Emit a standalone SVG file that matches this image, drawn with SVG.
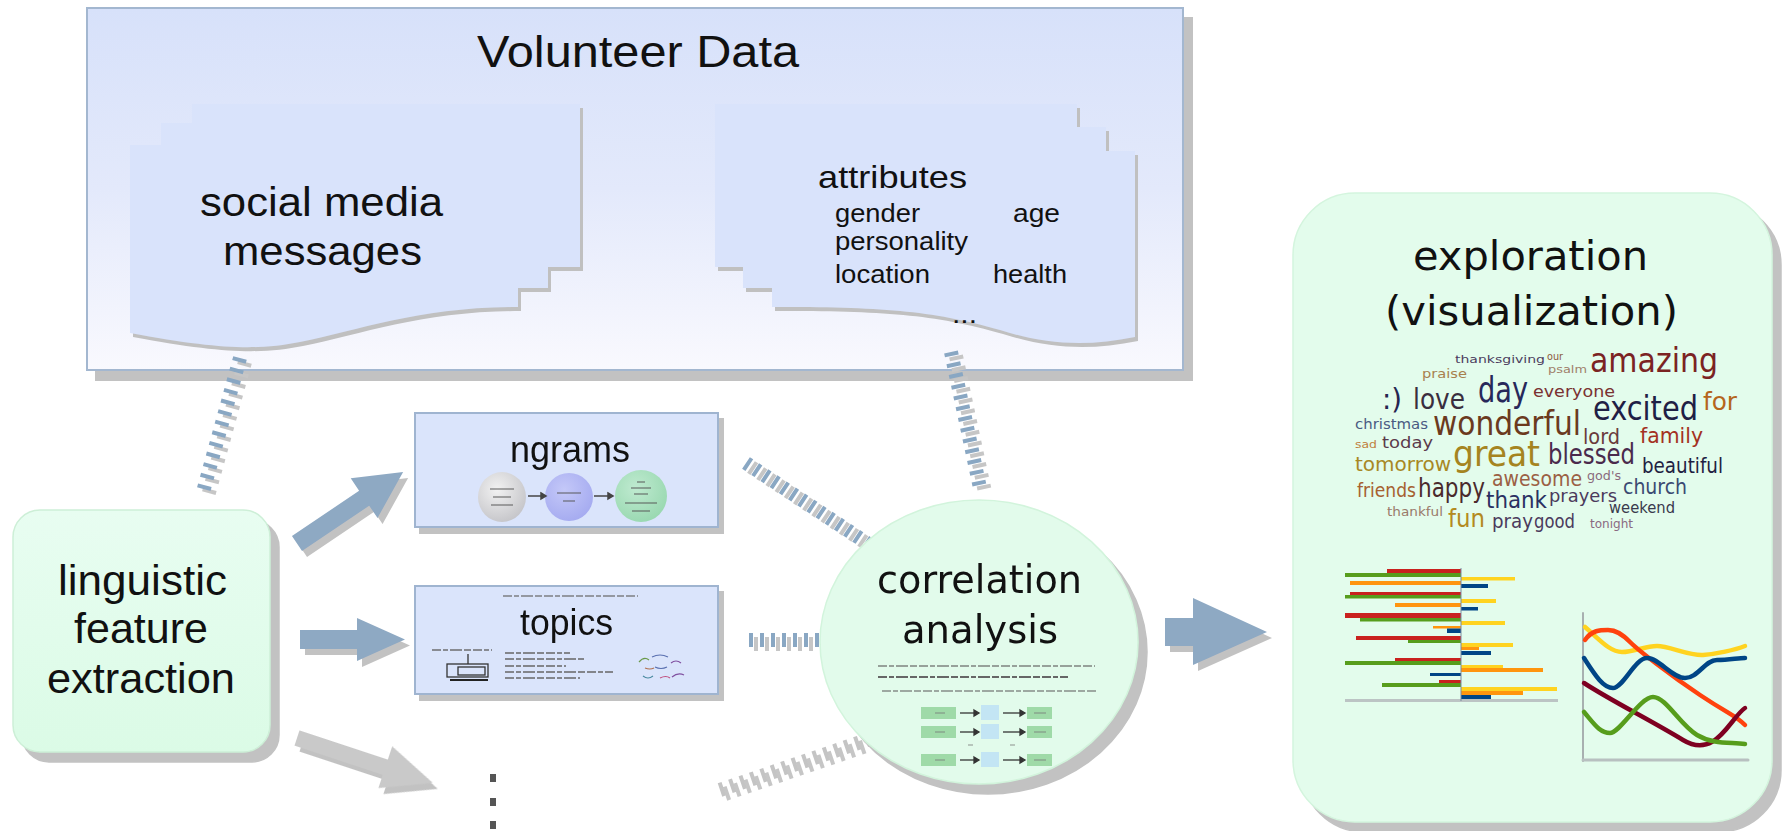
<svg xmlns="http://www.w3.org/2000/svg" width="1783" height="831" viewBox="0 0 1783 831">
<style>
.lbl{font-family:"Liberation Sans",Arial,sans-serif;fill:#111}
.dv{font-family:"DejaVu Sans","Liberation Sans",sans-serif;fill:#111}
.wc{font-family:"DejaVu Sans Condensed","DejaVu Sans","Liberation Sans",sans-serif;font-stretch:condensed}
.doc{fill:#d9e3fb}
.sbox{fill:#dae4fb;stroke:#9fb4d0;stroke-width:2}
.arr{fill:#8ea9c3}
.arrg{fill:#c9c9c9}
.dash{fill:none;stroke:#89a7c3;stroke-width:14;stroke-dasharray:4 7}
.dashg{fill:none;stroke:#c4c4c4;stroke-width:14;stroke-dasharray:4 7}
.tl{stroke:#666;stroke-width:2;stroke-dasharray:9 2 5 2 12 2 7 2}
.bar{stroke:none}
</style>
<defs>
<filter id="shBig" filterUnits="userSpaceOnUse" x="0" y="0" width="1783" height="831">
<feOffset in="SourceAlpha" dx="9" dy="10" result="o"/>
<feFlood flood-color="#c2c2c2"/><feComposite in2="o" operator="in"/>
<feMerge><feMergeNode/><feMergeNode in="SourceGraphic"/></feMerge>
</filter>
<filter id="shMid" filterUnits="userSpaceOnUse" x="0" y="0" width="1783" height="831">
<feOffset in="SourceAlpha" dx="5" dy="6" result="o"/>
<feFlood flood-color="#c2c2c2"/><feComposite in2="o" operator="in"/>
<feMerge><feMergeNode/><feMergeNode in="SourceGraphic"/></feMerge>
</filter>
<filter id="shDoc" filterUnits="userSpaceOnUse" x="0" y="0" width="1783" height="831">
<feOffset in="SourceAlpha" dx="3" dy="4" result="o"/>
<feFlood flood-color="#c0c0c0"/><feComposite in2="o" operator="in"/>
<feMerge><feMergeNode/><feMergeNode in="SourceGraphic"/></feMerge>
</filter>
<filter id="shDash" filterUnits="userSpaceOnUse" x="0" y="0" width="1783" height="831">
<feOffset in="SourceAlpha" dx="5" dy="4" result="o"/>
<feFlood flood-color="#c6c6c6"/><feComposite in2="o" operator="in"/>
<feMerge><feMergeNode/><feMergeNode in="SourceGraphic"/></feMerge>
</filter>
<linearGradient id="gVol" x1="0" y1="0" x2="0" y2="1">
<stop offset="0" stop-color="#d7e1fa"/><stop offset="0.5" stop-color="#e3e9fb"/><stop offset="1" stop-color="#f9f9fe"/>
</linearGradient>
<linearGradient id="gLing" x1="0" y1="0" x2="0" y2="1">
<stop offset="0" stop-color="#e8fdf1"/><stop offset="1" stop-color="#dbfbe6"/>
</linearGradient>
<radialGradient id="gGray" cx="0.4" cy="0.35" r="0.7"><stop offset="0" stop-color="#f2f2f2"/><stop offset="1" stop-color="#c4c4c8"/></radialGradient>
<radialGradient id="gBlue" cx="0.4" cy="0.35" r="0.7"><stop offset="0" stop-color="#c4c8f8"/><stop offset="1" stop-color="#a4aaf0"/></radialGradient>
<radialGradient id="gGreen" cx="0.4" cy="0.35" r="0.7"><stop offset="0" stop-color="#bfead0"/><stop offset="1" stop-color="#98d8b0"/></radialGradient>
</defs>

<!-- Volunteer Data container -->
<g id="node-volunteer">
<rect x="87" y="8" width="1096" height="362" fill="url(#gVol)" stroke="#a3b7d0" stroke-width="2" filter="url(#shBig)"/>
<text class="lbl" x="477" y="67" font-size="45" textLength="322" lengthAdjust="spacingAndGlyphs">Volunteer Data</text>
</g>

<g id="node-social-media">
<path class="doc" filter="url(#shDoc)" d="M130,145 L161,145 L161,123 L192,123 L192,104 L580,104 L580,267 L548,267 L548,288 L518,288 L518,307 C420,307 360,330 300,342 C260,350 220,350 130,333 Z"/>
<text class="lbl" x="200" y="216" font-size="41" textLength="243" lengthAdjust="spacingAndGlyphs">social media</text>
<text class="lbl" x="223" y="265" font-size="41" textLength="199" lengthAdjust="spacingAndGlyphs">messages</text>
</g>

<g id="node-attributes">
<path class="doc" filter="url(#shDoc)" d="M715,104 L1077,104 L1077,127 L1106,127 L1106,151 L1135,151 L1135,337 C1090,346 1050,346 1000,330 C930,310 880,307 772,307 L772,288 L743,288 L743,267 L715,267 Z"/>
<text class="lbl" x="818" y="188" font-size="32" textLength="149" lengthAdjust="spacingAndGlyphs">attributes</text>
<text class="lbl" x="835" y="222" font-size="26" textLength="85" lengthAdjust="spacingAndGlyphs">gender</text>
<text class="lbl" x="1013" y="222" font-size="26" textLength="47" lengthAdjust="spacingAndGlyphs">age</text>
<text class="lbl" x="835" y="250" font-size="26" textLength="133" lengthAdjust="spacingAndGlyphs">personality</text>
<text class="lbl" x="835" y="283" font-size="26" textLength="95" lengthAdjust="spacingAndGlyphs">location</text>
<text class="lbl" x="993" y="283" font-size="26" textLength="74" lengthAdjust="spacingAndGlyphs">health</text>
<text class="lbl" x="952" y="323" font-size="26" textLength="25" lengthAdjust="spacingAndGlyphs">...</text>
</g>

<!-- connectors -->
<g id="connectors">
<g filter="url(#shDash)">
<line class="dash" x1="240" y1="358" x2="203" y2="492"/>
<line class="dash" x1="951" y1="352" x2="980" y2="488"/>
<line class="dash" x1="746" y1="463" x2="867" y2="543"/>
<line class="dash" x1="749" y1="640" x2="822" y2="640"/>
<line class="dashg" x1="720" y1="790" x2="867" y2="740"/>
</g>
<g filter="url(#shMid)">
<polygon class="arr" transform="translate(297,543.5) rotate(-34)" points="0,-9 81,-9 81,-24 128,0 81,24 81,9 0,9"/>
<polygon class="arr" points="300,630 357,630 357,618 405,639.5 357,661 357,649 300,649"/>
<polygon class="arrg" transform="translate(297,738) rotate(18.3)" points="0,-8 93,-8 93,-22 143,0 93,22 93,8 0,8"/>
<polygon class="arr" points="1165,618 1193,618 1193,598 1267,632 1193,665 1193,646 1165,646"/>
</g>
</g>

<g id="node-linguistic">
<rect x="13" y="510" width="257" height="242" rx="27" ry="27" fill="url(#gLing)" stroke="#cdefd7" stroke-width="1.5" filter="url(#shBig)"/>
<text class="lbl" x="58" y="595" font-size="43" textLength="169" lengthAdjust="spacingAndGlyphs">linguistic</text>
<text class="lbl" x="141" y="643" font-size="43" text-anchor="middle">feature</text>
<text class="lbl" x="47" y="693" font-size="43" textLength="188" lengthAdjust="spacingAndGlyphs">extraction</text>
</g>

<g id="node-ngrams">
<rect class="sbox" x="415" y="413" width="303" height="114" filter="url(#shMid)"/>
<text class="lbl" x="510" y="462" font-size="37" textLength="120" lengthAdjust="spacingAndGlyphs">ngrams</text>
<ellipse cx="502" cy="497" rx="24" ry="25" fill="url(#gGray)"/>
<ellipse cx="569" cy="497" rx="24" ry="24" fill="url(#gBlue)"/>
<ellipse cx="641" cy="496" rx="26" ry="26" fill="url(#gGreen)"/>
<g stroke="#555" stroke-width="1.2" opacity="0.8">
<line x1="490" y1="489" x2="514" y2="489"/><line x1="493" y1="497" x2="511" y2="497"/><line x1="491" y1="505" x2="513" y2="505"/>
<line x1="557" y1="493" x2="581" y2="493"/><line x1="563" y1="501" x2="575" y2="501"/>
<line x1="637" y1="482" x2="645" y2="482"/><line x1="631" y1="488" x2="651" y2="488"/><line x1="634" y1="494" x2="648" y2="494"/><line x1="625" y1="503" x2="657" y2="503"/><line x1="632" y1="511" x2="650" y2="511"/>
</g>
<g stroke="#444" stroke-width="1.5" fill="#444">
<line x1="528" y1="496" x2="541" y2="496"/><polygon points="541,493 546,496 541,499"/>
<line x1="594" y1="496" x2="608" y2="496"/><polygon points="608,493 613,496 608,499"/>
</g>
</g>

<g id="node-topics">
<rect class="sbox" x="415" y="586" width="303" height="108" filter="url(#shMid)"/>
<line class="tl" x1="503" y1="596" x2="638" y2="596" stroke-width="1.5" opacity="0.6"/>
<text class="lbl" x="520" y="635" font-size="36" textLength="93" lengthAdjust="spacingAndGlyphs">topics</text>
<line class="tl" x1="432" y1="650" x2="492" y2="650" stroke-width="1.2" opacity="0.7"/>
<g fill="none" stroke="#333" stroke-width="1.3">
<line x1="468" y1="654" x2="468" y2="664"/>
<rect x="447" y="664" width="41" height="13"/>
<rect x="458" y="667" width="27" height="8"/>
</g>
<line x1="450" y1="680" x2="488" y2="680" stroke="#222" stroke-width="2"/>
<g class="tl" stroke-width="1.3" opacity="0.75">
<line x1="505" y1="653" x2="570" y2="653"/><line x1="505" y1="659" x2="584" y2="659"/><line x1="505" y1="666" x2="566" y2="666"/><line x1="505" y1="672" x2="613" y2="672"/><line x1="505" y1="678" x2="580" y2="678"/>
</g>
<g fill="none" stroke-width="1.2">
<path d="M639,662 q5,-6 10,-2" stroke="#6a9a4a"/><path d="M652,657 q8,-4 16,0 M655,667 q6,3 12,0" stroke="#5a70b0"/>
<path d="M645,668 q5,2 9,0" stroke="#b07050"/><path d="M671,663 q5,-4 10,0 M672,677 q6,-5 12,-2" stroke="#8050a0"/>
<path d="M643,676 q5,4 10,0" stroke="#4a8aa0"/><path d="M660,678 q6,-3 10,0" stroke="#c05080"/>
</g>
</g>

<g id="node-more">
<rect x="490" y="774" width="6" height="8" fill="#555"/>
<rect x="490" y="798" width="6" height="8" fill="#555"/>
<rect x="490" y="821" width="6" height="8" fill="#555"/>
</g>

<g id="node-correlation">
<ellipse cx="979" cy="642" rx="159" ry="142" fill="#e2fbeb" stroke="#d2f4dc" stroke-width="1.5" filter="url(#shBig)"/>
<text class="dv" x="877" y="593" font-size="39" textLength="205" lengthAdjust="spacingAndGlyphs">correlation</text>
<text class="dv" x="902" y="643" font-size="39" textLength="156" lengthAdjust="spacingAndGlyphs">analysis</text>
<line class="tl" x1="878" y1="666" x2="1095" y2="666" stroke-width="2.5" opacity="0.6"/>
<line class="tl" x1="878" y1="677" x2="1068" y2="677" stroke="#222" stroke-width="3"/>
<line class="tl" x1="882" y1="691" x2="1097" y2="691" stroke-width="1.5" opacity="0.55"/>
<g fill="#9fdaa8"><rect x="921" y="707" width="35" height="12"/><rect x="921" y="726" width="35" height="12"/><rect x="921" y="754" width="35" height="12"/>
<rect x="1027" y="707" width="25" height="12"/><rect x="1027" y="726" width="25" height="12"/><rect x="1027" y="754" width="25" height="12"/></g>
<g fill="#c3e5f4"><rect x="981" y="705" width="18" height="15"/><rect x="981" y="724" width="18" height="15"/><rect x="981" y="752" width="18" height="15"/></g>
<g stroke="#333" stroke-width="1.3" fill="#333">
<line x1="960" y1="713" x2="974" y2="713"/><polygon points="974,710 979,713 974,716"/>
<line x1="1003" y1="713" x2="1020" y2="713"/><polygon points="1020,710 1025,713 1020,716"/>
<line x1="960" y1="732" x2="974" y2="732"/><polygon points="974,729 979,732 974,735"/>
<line x1="1003" y1="732" x2="1020" y2="732"/><polygon points="1020,729 1025,732 1020,735"/>
<line x1="960" y1="760" x2="974" y2="760"/><polygon points="974,757 979,760 974,763"/>
<line x1="1003" y1="760" x2="1020" y2="760"/><polygon points="1020,757 1025,760 1020,763"/>
</g>
<g stroke="#777" stroke-width="1" opacity="0.8"><line x1="935" y1="713" x2="945" y2="713"/><line x1="935" y1="732" x2="945" y2="732"/><line x1="935" y1="760" x2="945" y2="760"/><line x1="1034" y1="713" x2="1046" y2="713"/><line x1="1034" y1="732" x2="1046" y2="732"/><line x1="1034" y1="760" x2="1046" y2="760"/><line x1="968" y1="745" x2="973" y2="745"/><line x1="1010" y1="745" x2="1015" y2="745"/></g>
</g>

<g id="node-exploration">
<rect x="1293" y="193" width="479" height="629" rx="62" ry="62" fill="#e3fcec" stroke="#d4f5de" stroke-width="1.5" filter="url(#shBig)"/>
<text class="dv" x="1413" y="270" font-size="41" textLength="235" lengthAdjust="spacingAndGlyphs">exploration</text>
<text class="dv" x="1385" y="325" font-size="41" textLength="293" lengthAdjust="spacingAndGlyphs">(visualization)</text>
<g class="wc">
<text x="1455" y="363" font-size="11" fill="#4b3d5e" textLength="90" lengthAdjust="spacingAndGlyphs">thanksgiving</text>
<text x="1547" y="360" font-size="10" fill="#8b5a3c" textLength="16" lengthAdjust="spacingAndGlyphs">our</text>
<text x="1548" y="373" font-size="10" fill="#a0806a" textLength="39" lengthAdjust="spacingAndGlyphs">psalm</text>
<text x="1590" y="372" font-size="34" fill="#7b2323" textLength="128" lengthAdjust="spacingAndGlyphs">amazing</text>
<text x="1422" y="378" font-size="12" fill="#a8804e" textLength="45" lengthAdjust="spacingAndGlyphs">praise</text>
<text x="1382" y="409" font-size="29" fill="#252550" textLength="20" lengthAdjust="spacingAndGlyphs">:)</text>
<text x="1413" y="409" font-size="29" fill="#3a2e3e" textLength="52" lengthAdjust="spacingAndGlyphs">love</text>
<text x="1478" y="402" font-size="35" fill="#27285a" textLength="50" lengthAdjust="spacingAndGlyphs">day</text>
<text x="1533" y="397" font-size="16" fill="#7a3232" textLength="82" lengthAdjust="spacingAndGlyphs">everyone</text>
<text x="1593" y="420" font-size="33" fill="#1f2045" textLength="105" lengthAdjust="spacingAndGlyphs">excited</text>
<text x="1703" y="410" font-size="24" fill="#b5651d" textLength="34" lengthAdjust="spacingAndGlyphs">for</text>
<text x="1355" y="429" font-size="14" fill="#4a5a82" textLength="73" lengthAdjust="spacingAndGlyphs">christmas</text>
<text x="1433" y="435" font-size="34" fill="#6b3a1e" textLength="148" lengthAdjust="spacingAndGlyphs">wonderful</text>
<text x="1583" y="444" font-size="21" fill="#6a3a3c" textLength="37" lengthAdjust="spacingAndGlyphs">lord</text>
<text x="1640" y="443" font-size="22" fill="#a33122" textLength="63" lengthAdjust="spacingAndGlyphs">family</text>
<text x="1355" y="448" font-size="11" fill="#c08040" textLength="22" lengthAdjust="spacingAndGlyphs">sad</text>
<text x="1382" y="448" font-size="16" fill="#5b3a4a" textLength="51" lengthAdjust="spacingAndGlyphs">today</text>
<text x="1453" y="466" font-size="35" fill="#a58420" textLength="87" lengthAdjust="spacingAndGlyphs">great</text>
<text x="1548" y="464" font-size="28" fill="#4a2a4c" textLength="87" lengthAdjust="spacingAndGlyphs">blessed</text>
<text x="1642" y="473" font-size="21" fill="#1f2142" textLength="81" lengthAdjust="spacingAndGlyphs">beautiful</text>
<text x="1355" y="471" font-size="20" fill="#a88824" textLength="96" lengthAdjust="spacingAndGlyphs">tomorrow</text>
<text x="1492" y="486" font-size="21" fill="#9b6044" textLength="90" lengthAdjust="spacingAndGlyphs">awesome</text>
<text x="1587" y="480" font-size="12" fill="#8a6a7c" textLength="34" lengthAdjust="spacingAndGlyphs">god's</text>
<text x="1623" y="494" font-size="21" fill="#3b4a72" textLength="64" lengthAdjust="spacingAndGlyphs">church</text>
<text x="1357" y="497" font-size="19" fill="#a66030" textLength="59" lengthAdjust="spacingAndGlyphs">friends</text>
<text x="1418" y="497" font-size="26" fill="#4a2a2c" textLength="67" lengthAdjust="spacingAndGlyphs">happy</text>
<text x="1486" y="508" font-size="23" fill="#2a3062" textLength="61" lengthAdjust="spacingAndGlyphs">thank</text>
<text x="1549" y="502" font-size="18" fill="#4b3a5c" textLength="68" lengthAdjust="spacingAndGlyphs">prayers</text>
<text x="1609" y="513" font-size="15" fill="#3a3a4c" textLength="66" lengthAdjust="spacingAndGlyphs">weekend</text>
<text x="1387" y="516" font-size="13" fill="#9a7a6a" textLength="56" lengthAdjust="spacingAndGlyphs">thankful</text>
<text x="1448" y="527" font-size="24" fill="#b38a20" textLength="37" lengthAdjust="spacingAndGlyphs">fun</text>
<text x="1492" y="528" font-size="19" fill="#4b3a5c" textLength="41" lengthAdjust="spacingAndGlyphs">pray</text>
<text x="1534" y="528" font-size="19" fill="#4b3a5c" textLength="41" lengthAdjust="spacingAndGlyphs">good</text>
<text x="1590" y="528" font-size="12" fill="#8a6a82" textLength="43" lengthAdjust="spacingAndGlyphs">tonight</text>
</g>
<!-- bar chart -->
<g class="bar">
<rect x="1387" y="569" width="74" height="4" fill="#c9211e"/>
<rect x="1345" y="573" width="116" height="4" fill="#579d1c"/>
<rect x="1461" y="577" width="54" height="3.5" fill="#ffd320"/>
<rect x="1350" y="581" width="111" height="4" fill="#ff950e"/>
<rect x="1461" y="584" width="27" height="4" fill="#004586"/>
<rect x="1350" y="592" width="111" height="3.5" fill="#c9211e"/>
<rect x="1345" y="595" width="116" height="3.5" fill="#579d1c"/>
<rect x="1461" y="599" width="35" height="4" fill="#ffd320"/>
<rect x="1395" y="603" width="66" height="4" fill="#ff950e"/>
<rect x="1461" y="607" width="17" height="3.5" fill="#004586"/>
<rect x="1345" y="613" width="116" height="5" fill="#c9211e"/>
<rect x="1360" y="618" width="101" height="3.5" fill="#579d1c"/>
<rect x="1461" y="621" width="44" height="4" fill="#ffd320"/>
<rect x="1433" y="626" width="28" height="2.5" fill="#ff950e"/>
<rect x="1447" y="628.5" width="14" height="4.5" fill="#004586"/>
<rect x="1356" y="636" width="105" height="4" fill="#c9211e"/>
<rect x="1408" y="640" width="53" height="3" fill="#579d1c"/>
<rect x="1461" y="643" width="52" height="4" fill="#ffd320"/>
<rect x="1461" y="647" width="18" height="3" fill="#ff950e"/>
<rect x="1461" y="651" width="30" height="4" fill="#004586"/>
<rect x="1395" y="658" width="66" height="4" fill="#c9211e"/>
<rect x="1345" y="661" width="116" height="4" fill="#579d1c"/>
<rect x="1461" y="665" width="42" height="3.5" fill="#ffd320"/>
<rect x="1461" y="668" width="82" height="4" fill="#ff950e"/>
<rect x="1430" y="673" width="31" height="3" fill="#004586"/>
<rect x="1439" y="680" width="22" height="3" fill="#c9211e"/>
<rect x="1382" y="683" width="79" height="4" fill="#579d1c"/>
<rect x="1461" y="687" width="96" height="4" fill="#ffd320"/>
<rect x="1461" y="691" width="62" height="4" fill="#ff950e"/>
<rect x="1461" y="695" width="30" height="4" fill="#004586"/>
<line x1="1345" y1="700.5" x2="1558" y2="700.5" stroke="#bcc4c4" stroke-width="3"/>
<line x1="1461" y1="568" x2="1461" y2="701" stroke="#7a8aa0" stroke-width="1"/>
</g>
<!-- line chart -->
<g fill="none" stroke-width="4.5" stroke-linecap="round">
<line x1="1583" y1="613" x2="1583" y2="761" stroke="#a8b0b0" stroke-width="2"/>
<line x1="1583" y1="760" x2="1748" y2="760" stroke="#b8c0c0" stroke-width="3"/>
<path stroke="#ffd320" d="M1585,627 C1600,640 1610,652 1622,652 S1645,646 1657,646 S1690,656 1703,655 S1735,650 1745,646"/>
<path stroke="#ff420e" d="M1585,640 C1592,630 1600,630 1608,630 S1622,634 1630,642 S1670,675 1700,695 S1735,715 1745,725"/>
<path stroke="#004586" d="M1584,658 C1595,675 1603,688 1613,688 S1635,658 1647,658 S1672,678 1685,678 S1705,660 1717,660 S1738,658 1745,658"/>
<path stroke="#7e0021" d="M1584,683 C1610,700 1650,720 1683,740 S1730,718 1745,708"/>
<path stroke="#579d1c" d="M1584,712 C1595,725 1600,733 1610,733 S1640,697 1653,697 S1680,725 1697,735 S1730,742 1745,744"/>
</g>
</g>
</svg>
